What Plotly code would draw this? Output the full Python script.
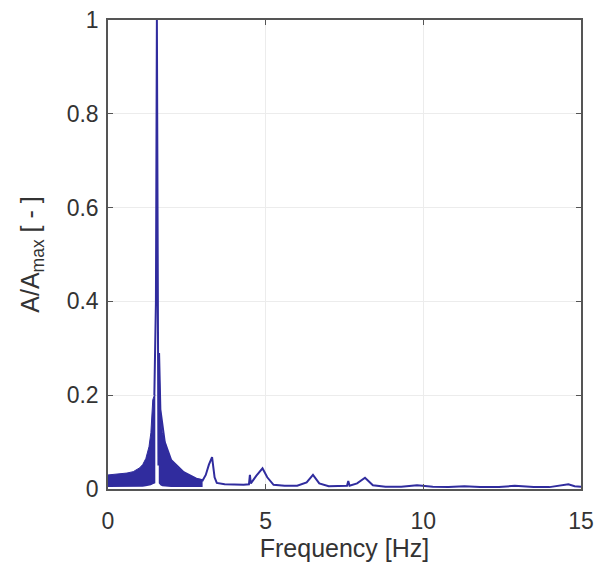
import plotly.graph_objects as go

# ---- data ----
# dense low-frequency band (left of main peak): upper / lower envelope
band_left_freq = [0.0, 0.2, 0.4, 0.6, 0.8, 1.0, 1.1, 1.2, 1.3, 1.36, 1.42, 1.47, 1.5]
band_left_upper = [0.030, 0.031, 0.032, 0.034, 0.037, 0.045, 0.052, 0.065, 0.09, 0.12, 0.19, 0.20, 0.20]
band_left_lower = [0.004, 0.004, 0.004, 0.004, 0.004, 0.004, 0.005, 0.006, 0.007, 0.008, 0.010, 0.012, 0.012]

# dense band right of main peak
band_right_freq = [1.61, 1.63, 1.66, 1.72, 1.8, 1.9, 2.0, 2.2, 2.4, 2.6, 2.8, 3.0]
band_right_upper = [0.29, 0.24, 0.17, 0.12, 0.10, 0.078, 0.062, 0.046, 0.036, 0.028, 0.022, 0.020]
band_right_lower = [0.012, 0.010, 0.008, 0.006, 0.005, 0.004, 0.004, 0.004, 0.004, 0.004, 0.004, 0.004]

# spectrum line (main peak and higher harmonics)
line_freq = [1.47, 1.52, 1.55, 1.575, 1.6, 1.62, 1.66, 1.8, 2.0, 2.4, 2.8, 3.0, 3.1, 3.2, 3.3,
             3.38, 3.45, 3.7, 4.0, 4.3, 4.47, 4.5, 4.53, 4.7, 4.9, 5.05, 5.25, 5.6, 6.0, 6.3, 6.5,
             6.7, 7.0, 7.4, 7.58, 7.62, 7.66, 7.9, 8.15, 8.4, 8.8, 9.3, 9.8, 10.3, 10.8, 11.3,
             11.8, 12.4, 12.9, 13.5, 14.0, 14.6, 14.8, 15.0]
line_amp = [0.20, 0.40, 1.00, 0.35, 0.05, 0.29, 0.17, 0.10, 0.062, 0.036, 0.022, 0.018, 0.030, 0.052, 0.068,
            0.025, 0.013, 0.010, 0.009, 0.009, 0.010, 0.030, 0.012, 0.028, 0.044, 0.025, 0.009, 0.007, 0.007, 0.014, 0.030,
            0.012, 0.006, 0.006, 0.007, 0.017, 0.007, 0.012, 0.024, 0.008, 0.005, 0.005, 0.008, 0.005, 0.004, 0.006,
            0.004, 0.004, 0.007, 0.004, 0.004, 0.010, 0.006, 0.005]

x_ticks = [0, 5, 10, 15]
y_ticks = [0, 0.2, 0.4, 0.6, 0.8, 1]
y_tick_text = ["0", "0.2", "0.4", "0.6", "0.8", "1"]

blue = "rgb(48,44,158)"

fig = go.Figure()
for fx, up, lo in [(band_left_freq, band_left_upper, band_left_lower),
                   (band_right_freq, band_right_upper, band_right_lower)]:
    fig.add_trace(go.Scatter(x=fx, y=lo, mode="lines", line=dict(width=0, color=blue),
                             showlegend=False, hoverinfo="skip"))
    fig.add_trace(go.Scatter(x=fx, y=up, mode="lines", line=dict(width=1, color=blue),
                             fill="tonexty", fillcolor=blue, showlegend=False))

fig.add_trace(go.Scatter(x=line_freq, y=line_amp, mode="lines",
                         line=dict(width=2, color=blue), showlegend=False))

font_fam = "Liberation Sans, Arial, sans-serif"
axis_common = dict(ticks="inside", ticklen=5, tickcolor="#555555", showline=True,
                   linecolor="#555555", linewidth=1.5, mirror="ticks", showgrid=True,
                   gridcolor="#ececec", zeroline=False, automargin=False,
                   ticklabeloverflow="allow", tickfont=dict(size=23))
fig.update_layout(
    width=598, height=562,
    margin=dict(l=100, r=25, t=12, b=81),
    paper_bgcolor="white", plot_bgcolor="white",
    font=dict(family=font_fam, size=22, color="#333333"),
    xaxis=dict(range=[0, 15], tickvals=x_ticks, ticklabelstandoff=11,
               title=dict(text="Frequency [Hz]", font=dict(size=25), standoff=6),
               **axis_common),
    yaxis=dict(range=[0, 1], tickvals=y_ticks, ticktext=y_tick_text, ticklabelstandoff=3,
               title=dict(text="A/A<sub>max</sub> [ - ]", font=dict(size=25), standoff=20),
               **axis_common),
)

fig.write_html("out.html")
